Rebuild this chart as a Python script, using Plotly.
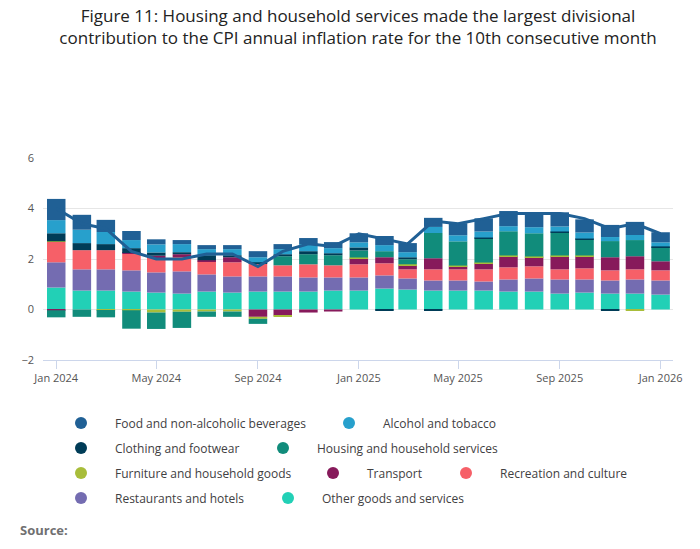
import pandas as pd
import plotly.graph_objects as go

months = pd.date_range("2024-01-01", "2026-01-01", freq="MS")

food = [0.84, 0.59, 0.48, 0.36, 0.20, 0.16, 0.16, 0.16, 0.24, 0.20, 0.24, 0.24, 0.36,
        0.36, 0.36, 0.36, 0.48, 0.52, 0.60, 0.60, 0.56, 0.52, 0.48, 0.52, 0.40]
alcohol = [0.52, 0.53, 0.48, 0.32, 0.32, 0.32, 0.24, 0.24, 0.20, 0.20, 0.28, 0.20, 0.20,
           0.24, 0.20, 0.24, 0.24, 0.24, 0.20, 0.24, 0.20, 0.24, 0.16, 0.20, 0.16]
clothing = [0.32, 0.28, 0.24, 0.19, 0.13, 0.08, 0.20, 0.08, 0.04, 0.08, 0.12, 0.08, 0.12,
            -0.03, 0.08, -0.03, 0.0, 0.03, 0.0, 0.0, 0.03, 0.03, -0.03, 0.0, 0.03]
housing = [-0.28, -0.29, -0.29, -0.73, -0.65, -0.64, -0.21, -0.21, -0.20, 0.36, 0.40, 0.40, 0.28,
           0.24, 0.20, 1.00, 0.96, 0.96, 0.96, 0.92, 0.92, 0.64, 0.64, 0.64, 0.56]
furniture = [0.02, 0.0, -0.02, -0.03, -0.12, -0.09, -0.08, -0.08, -0.08, -0.03, 0.0, 0.0, 0.03,
             0.0, 0.04, 0.0, 0.03, 0.03, 0.03, 0.03, 0.03, 0.03, 0.0, -0.03, 0.0]
transport = [-0.03, 0.0, 0.0, 0.04, 0.09, 0.11, 0.04, 0.20, -0.29, -0.24, -0.12, -0.08, 0.24,
             0.24, 0.16, 0.44, 0.12, 0.24, 0.44, 0.36, 0.52, 0.48, 0.52, 0.52, 0.36]
recreation = [0.81, 0.76, 0.76, 0.65, 0.57, 0.57, 0.52, 0.56, 0.52, 0.44, 0.52, 0.48, 0.52,
              0.48, 0.36, 0.44, 0.44, 0.48, 0.48, 0.48, 0.40, 0.44, 0.40, 0.40, 0.40]
restaurants = [1.00, 0.84, 0.84, 0.84, 0.80, 0.88, 0.68, 0.64, 0.60, 0.60, 0.56, 0.52, 0.52,
               0.52, 0.44, 0.40, 0.40, 0.36, 0.48, 0.52, 0.56, 0.52, 0.52, 0.56, 0.56]
other = [0.87, 0.75, 0.75, 0.71, 0.67, 0.63, 0.71, 0.67, 0.71, 0.71, 0.71, 0.75, 0.75,
         0.83, 0.79, 0.75, 0.75, 0.75, 0.71, 0.71, 0.63, 0.67, 0.63, 0.63, 0.59]
cpi = [4.0, 3.4, 3.2, 2.3, 2.0, 2.0, 2.2, 2.2, 1.7, 2.3, 2.6, 2.5, 3.0,
       2.8, 2.6, 3.5, 3.4, 3.6, 3.8, 3.8, 3.8, 3.6, 3.2, 3.4, 3.0]

series = [
    ("Other goods and services", other, "#22d0b6"),
    ("Restaurants and hotels", restaurants, "#746cb1"),
    ("Recreation and culture", recreation, "#f66068"),
    ("Transport", transport, "#871a5b"),
    ("Furniture and household goods", furniture, "#a8bd3a"),
    ("Housing and household services", housing, "#118c7b"),
    ("Clothing and footwear", clothing, "#003c57"),
    ("Alcohol and tobacco", alcohol, "#27a0cc"),
    ("Food and non-alcoholic beverages", food, "#206095"),
]
colors = {name: c for name, _, c in series}

fig = go.Figure()
for name, vals, col in series:
    fig.add_trace(go.Bar(x=months, y=vals, name=name, marker_color=col,
                         marker_line_width=0, showlegend=False))
fig.add_trace(go.Scatter(x=months, y=cpi, mode="lines", name="CPI",
                         line=dict(color="#206095", width=3), showlegend=False))

# plot area in pixels: x 35..665, y 150..352
L, R, T, B = 35, 665, 150, 352


def px(x, y):
    return (x - L) / (R - L), (B - y) / (B - T)


legend_items = [
    ("Food and non-alcoholic beverages", 73, 415), ("Alcohol and tobacco", 341, 415),
    ("Clothing and footwear", 73, 440), ("Housing and household services", 275, 440),
    ("Furniture and household goods", 73, 465), ("Transport", 325, 465),
    ("Recreation and culture", 458, 465),
    ("Restaurants and hotels", 73, 490), ("Other goods and services", 280, 490),
]
shapes, annots = [], []
for name, mx, my in legend_items:
    x0, y0 = px(mx - 6, my + 6)
    x1, y1 = px(mx + 6, my - 6)
    shapes.append(dict(type="circle", xref="paper", yref="paper", x0=x0, y0=y0, x1=x1, y1=y1,
                       fillcolor=colors[name], line_width=0))
    tx, ty = px(mx + 32, my)
    annots.append(dict(text=name, x=tx, y=ty, xref="paper", yref="paper", showarrow=False,
                       xanchor="left", yanchor="middle", font=dict(size=12, color="#414042")))
sx, sy = px(10, 522)
annots.append(dict(text="<b>Source:</b>", x=sx, y=sy, xref="paper", yref="paper", showarrow=False,
                   xanchor="left", yanchor="middle", font=dict(size=13, color="#707071")))

fig.update_layout(
    width=700, height=549,
    barmode="relative", bargap=0.2,
    plot_bgcolor="white", paper_bgcolor="white",
    font=dict(family="Open Sans", color="#414042"),
    title=dict(text="Figure 11: Housing and household services made the largest divisional<br>"
                    "contribution to the CPI annual inflation rate for the 10th consecutive month",
               x=0.5, xanchor="center", xref="paper", yref="container", y=0.975, yanchor="top",
               automargin=False, font=dict(size=17, color="#222222")),
    margin=dict(l=L, r=700 - R, t=T, b=549 - B, autoexpand=False),
    shapes=shapes, annotations=annots,
    xaxis=dict(range=["2023-12-16", "2026-01-16"], tickformat="%b %Y", dtick="M4",
               tick0="2024-01-01", ticks="outside", ticklen=8, tickcolor="#ccd6eb",
               showline=True, linecolor="#ccd6eb", showgrid=False, automargin=False,
               tickfont=dict(size=11, color="#555555")),
    yaxis=dict(range=[-2, 6], dtick=2, gridcolor="#e6e6e6", zeroline=False, automargin=False,
               tickfont=dict(size=11, color="#555555"), ticks="", ticklabelstandoff=8),
)

fig.write_html("out.html")
